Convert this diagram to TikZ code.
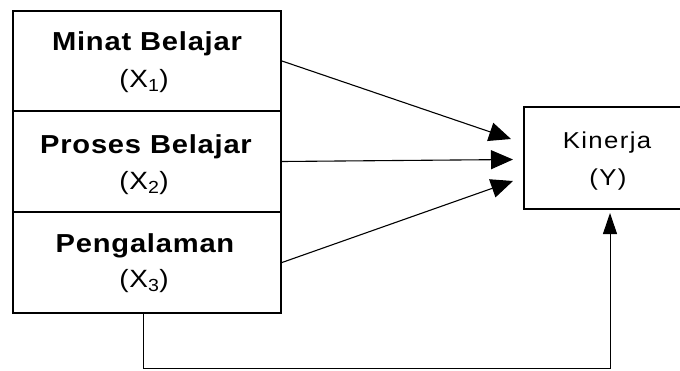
\documentclass[tikz,border=0pt]{standalone}
\usepackage{fontspec}
\setmainfont{Liberation Sans}
\newfontfamily\tfont[FakeStretch=1.12,LetterSpace=3]{Liberation Sans}
\newfontfamily\kfont[FakeStretch=1.12,LetterSpace=6]{Liberation Sans}
\usetikzlibrary{arrows.meta}
\begin{document}
\begin{tikzpicture}[x=1pt,y=-1pt,
  box/.style={draw,line width=2pt,minimum width=268pt,inner sep=0pt},
  ttl/.style={anchor=base,inner sep=0pt,font=\tfont\bfseries\fontsize{26}{30}\selectfont},
  sub/.style={anchor=base,inner sep=0pt,font=\tfont\fontsize{25}{29}\selectfont},
  ktxt/.style={anchor=base,inner sep=0pt,font=\kfont\fontsize{23}{27}\selectfont},
  arr/.style={-{Triangle[length=22pt,width=19pt]},line width=1.1pt},
  arrb/.style={-{Triangle[length=21pt,width=14pt]},line width=1pt}]
\useasboundingbox (0,0) rectangle (680,370);
\clip (0,0) rectangle (680,370);
\fill[white] (0,0) rectangle (680,370);
% left stacked boxes
\node[box,minimum height=100pt] (X1) at (147,61) {};
\node[box,minimum height=101pt] (X2) at (147,161.5) {};
\node[box,minimum height=101pt] (X3) at (147,262.5) {};
\node[ttl] (X1t) at (147,50) {Minat Belajar};
\node[sub] (X1s) at (144,87.5) {(X\textsubscript{1})};
\node[ttl] (X2t) at (146,153) {Proses Belajar};
\node[sub] (X2s) at (144,189.5) {(X\textsubscript{2})};
\node[ttl] (X3t) at (145,252) {Pengalaman};
\node[sub] (X3s) at (144,287.5) {(X\textsubscript{3})};
% right box
\node[draw,line width=1.8pt,minimum width=166pt,minimum height=102pt,inner sep=0pt] (K) at (607,158) {};
\node[ktxt] (Kt) at (607,148.3) {Kinerja};
\node[ktxt] (Ks) at (608,185) {(Y)};
% arrow targets
\coordinate (t1) at (511,139);
\coordinate (t2) at (513,159.5);
\coordinate (t3) at (513,181);
\draw[arr] (X1.east) -- (t1);
\draw[arr] (X2.east) -- (t2);
\draw[arr] (X3.east) -- (t3);
% bottom connector
\coordinate (c1) at (143,368.5);
\coordinate (c2) at (610,213);
\draw[arrb] (c1 |- X3.south) -- (c1) -| (c2);
\end{tikzpicture}
\end{document}
